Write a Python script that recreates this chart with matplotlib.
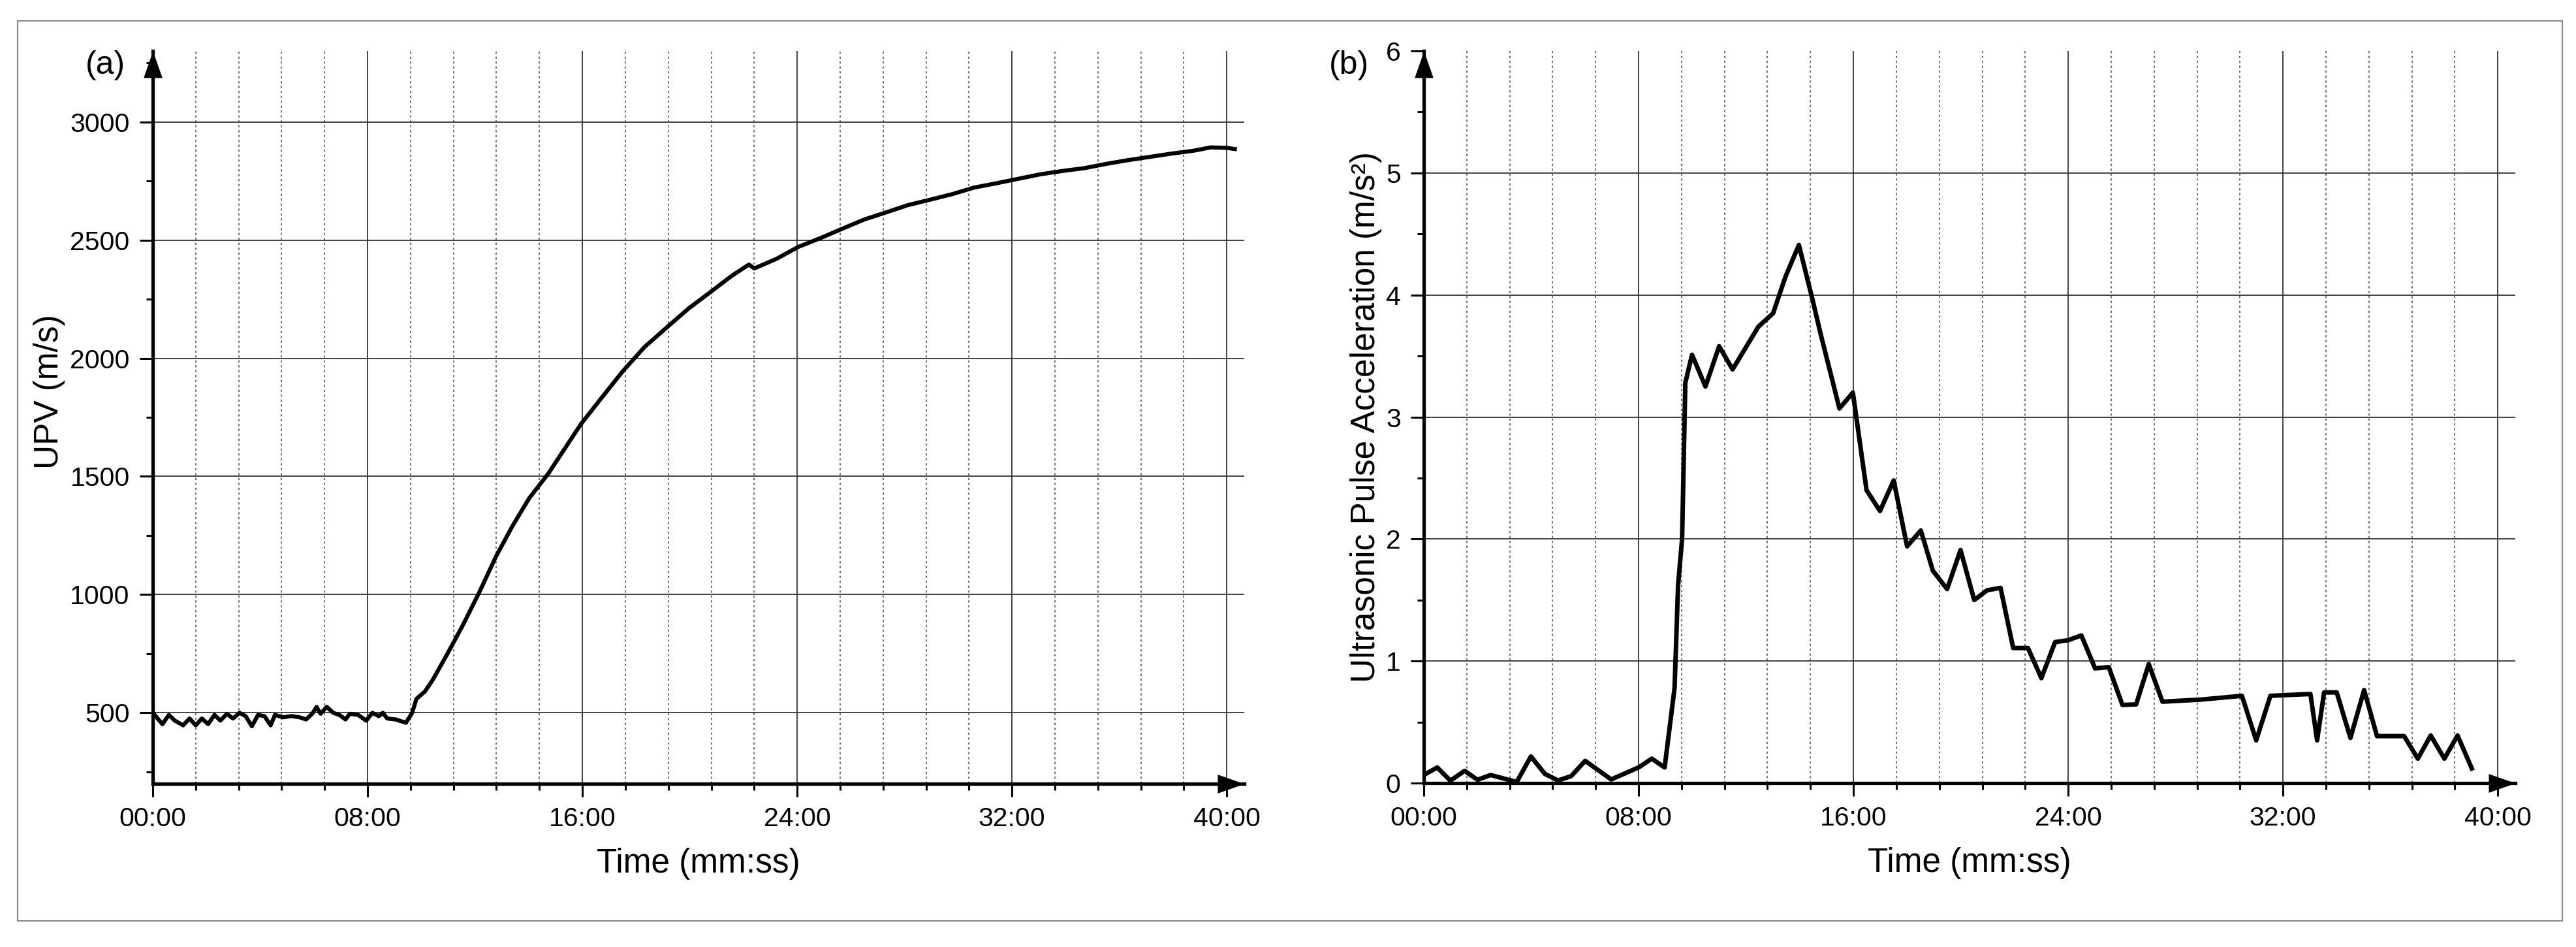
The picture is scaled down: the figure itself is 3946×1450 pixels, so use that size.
import matplotlib
matplotlib.use("Agg")
import matplotlib.pyplot as plt
from matplotlib.patches import Rectangle
from matplotlib.ticker import MultipleLocator, FuncFormatter

plt.rcParams['font.family'] = ['Liberation Sans', 'DejaVu Sans']

# (a) UPV, time in minutes
upv_t = [0.07, 0.36, 0.60, 0.82, 1.13, 1.37, 1.60, 1.83, 2.06, 2.30, 2.52, 2.76, 2.99,
         3.23, 3.46, 3.69, 3.92, 4.16, 4.39, 4.55, 4.85, 5.16, 5.47, 5.71, 5.94, 6.10,
         6.25, 6.48, 6.72, 6.95, 7.18, 7.34, 7.65, 7.95, 8.18, 8.42, 8.57, 8.73, 9.04,
         9.43, 9.66, 9.82, 10.14, 10.43, 10.95, 11.56, 12.17, 12.79, 13.40, 14.02, 14.73,
         15.34, 15.95, 16.67, 17.49, 18.31, 19.13, 19.95, 20.77, 21.58, 22.20, 22.40,
         23.22, 24.04, 24.86, 25.68, 26.50, 27.31, 28.13, 28.96, 29.77, 30.59, 31.41,
         32.23, 33.05, 33.86, 34.69, 35.50, 36.32, 37.14, 37.96, 38.77, 39.40, 40.00, 40.30]
upv_v = [491, 452, 491, 467, 447, 476, 447, 476, 452, 491, 467, 496, 476,
         500, 486, 443, 491, 486, 447, 491, 481, 486, 481, 472, 496, 525,
         496, 525, 500, 491, 472, 496, 491, 467, 500, 486, 500, 476, 472,
         458, 500, 559, 591, 640, 745, 873, 1012, 1163, 1291, 1408, 1512,
         1617, 1722, 1826, 1943, 2047, 2129, 2210, 2280, 2350, 2396, 2380,
         2420, 2471, 2508, 2548, 2587, 2617, 2648, 2671, 2694, 2722, 2740,
         2759, 2778, 2792, 2804, 2822, 2838, 2852, 2866, 2878, 2892, 2890, 2885]

# (b) ultrasonic pulse acceleration, time in minutes
acc_t = [0.00, 0.50, 0.99, 1.52, 2.00, 2.49, 3.46, 3.99, 4.51, 5.00, 5.49, 6.01, 6.98,
         8.00, 8.49, 8.97, 9.34, 9.47, 9.62, 9.74, 9.99, 10.49, 11.00, 11.50, 12.46,
         13.01, 13.47, 13.97, 14.48, 14.78, 15.48, 15.98, 16.49, 16.99, 17.50, 18.00,
         18.51, 18.96, 19.49, 19.99, 20.50, 20.98, 21.48, 21.95, 22.50, 23.00, 23.51,
         23.98, 24.49, 25.00, 25.51, 26.02, 26.53, 27.00, 27.51, 28.94, 30.47, 31.00,
         31.53, 32.00, 33.02, 33.27, 33.53, 34.00, 34.51, 35.02, 35.50, 36.51, 37.02,
         37.50, 38.01, 38.50, 39.03]
acc_v = [0.066, 0.128, 0.020, 0.100, 0.027, 0.066, 0.009, 0.218, 0.075, 0.021, 0.057,
         0.182, 0.030, 0.128, 0.200, 0.128, 0.78, 1.62, 2.00, 3.28, 3.51, 3.25, 3.58,
         3.39, 3.74, 3.85, 4.15, 4.41, 3.96, 3.68, 3.07, 3.20, 2.40, 2.23, 2.48, 1.94,
         2.07, 1.74, 1.59, 1.91, 1.50, 1.58, 1.60, 1.107, 1.107, 0.86, 1.155, 1.17,
         1.21, 0.94, 0.95, 0.64, 0.645, 0.975, 0.667, 0.684, 0.715, 0.35, 0.715, 0.72,
         0.73, 0.35, 0.743, 0.743, 0.37, 0.762, 0.385, 0.385, 0.20, 0.39, 0.20, 0.39, 0.12]

upv_ticks = [500, 1000, 1500, 2000, 2500, 3000]
acc_ticks = [0, 1, 2, 3, 4, 5, 6]

W, H = 3946, 1450
fig = plt.figure(figsize=(W / 100, H / 100), dpi=100)

# outer frame
fig.patches.append(Rectangle((27 / W, 1 - 1410 / H), (3925 - 27) / W, (1410 - 32) / H,
                             transform=fig.transFigure, fill=False,
                             edgecolor='#8a8a8a', linewidth=1.6))

t_max = 40.65


def mmss(v, pos):
    m = int(round(v * 60)) // 60
    s = int(round(v * 60)) % 60
    return f"{m:02d}:{s:02d}"


up_arrow = [(-0.35, -1), (0.35, -1), (0, 0)]
right_arrow = [(-1, -0.35), (-1, 0.35), (0, 0)]


def style_axes(ax, y_major, y_minor):
    for side in ['top', 'right']:
        ax.spines[side].set_visible(False)
    for side in ['left', 'bottom']:
        ax.spines[side].set_linewidth(3.8)
        ax.spines[side].set_zorder(4)
    ax.xaxis.set_major_locator(MultipleLocator(8))
    ax.xaxis.set_minor_locator(MultipleLocator(1.6))
    ax.xaxis.set_major_formatter(FuncFormatter(mmss))
    ax.set_yticks(y_major)
    ax.yaxis.set_minor_locator(MultipleLocator(y_minor))
    ax.tick_params(which='major', length=14.4, width=2.2, labelsize=29.5, pad=11)
    ax.tick_params(which='minor', length=7.2, width=2.2)
    ax.set_axisbelow(True)
    ax.grid(which='major', axis='both', color='#333333', linewidth=1.3)
    ax.grid(which='minor', axis='x', color='#555555', linewidth=1.2,
            linestyle=(0, (2, 2.5)))
    ax.plot(0, 1, marker=up_arrow, ms=59, mew=0, color='k',
            transform=ax.transAxes, clip_on=False, zorder=5)
    ax.plot(1, 0, marker=right_arrow, ms=59, mew=0, color='k',
            transform=ax.transAxes, clip_on=False, zorder=5)
    ax.set_xlabel('Time (mm:ss)', fontsize=37)
    ax.xaxis.set_label_coords(0.5, -0.087)


# panel (a)
ax1 = fig.add_axes([234 / W, 1 - 1200 / H, (1906 - 234) / W, (1200 - 78) / H])
ax1.plot(upv_t, upv_v, color='k', linewidth=4.5, zorder=3)
style_axes(ax1, upv_ticks, 250)
ax1.set_xlim(0, t_max)
ax1.set_ylim(200, 3300)
ax1.set_ylabel('UPV (m/s)', fontsize=37)
ax1.yaxis.set_label_coords(-0.080, 0.535)

# panel (b)
ax2 = fig.add_axes([2181 / W, 1 - 1199 / H, (3853 - 2181) / W, (1199 - 78) / H])
ax2.plot(acc_t, acc_v, color='k', linewidth=5.0, zorder=3)
style_axes(ax2, acc_ticks, 0.5)
ax2.yaxis.get_major_ticks()[-1].gridline.set_visible(False)
ax2.set_xlim(0, t_max)
ax2.set_ylim(0, 6)
ax2.set_ylabel('Ultrasonic Pulse Acceleration (m/s²)', fontsize=37)
ax2.yaxis.set_label_coords(-0.038, 0.50)

fig.text(131 / W, 1 - 77 / H, '(a)', fontsize=36, ha='left', va='top')
fig.text(2036 / W, 1 - 77 / H, '(b)', fontsize=36, ha='left', va='top')

fig.savefig('out.png', dpi=100)
